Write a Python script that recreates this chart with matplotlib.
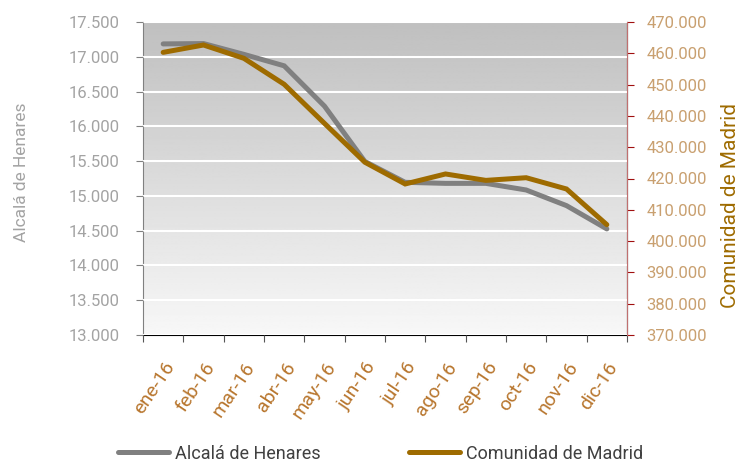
import numpy as np
import matplotlib.pyplot as plt

# paro registrado 2016
meses = ['ene-16', 'feb-16', 'mar-16', 'abr-16', 'may-16', 'jun-16',
         'jul-16', 'ago-16', 'sep-16', 'oct-16', 'nov-16', 'dic-16']
alcala = [17185, 17190, 17035, 16870, 16290, 15495,
          15195, 15180, 15180, 15085, 14860, 14525]
madrid = [460300, 462650, 458400, 450100, 437600, 425200,
          418250, 421450, 419400, 420250, 416650, 405250]

GRIS = '#808080'
ORO = '#9e6b00'

plt.rcParams['font.family'] = ['Roboto', 'DejaVu Sans']

fig = plt.figure(figsize=(7.39, 4.66), dpi=100)
ax = fig.add_axes([143 / 739, 1 - 335 / 466, 484 / 739, 313 / 466])
ax2 = ax.twinx()

# fondo degradado gris (arriba) -> blanco (abajo)
grad = np.linspace(0.75, 0.97, 256).reshape(-1, 1)
ax.imshow(grad, cmap='gray', vmin=0, vmax=1, aspect='auto',
          extent=[0, 1, 0, 1], transform=ax.transAxes, zorder=0)

x = np.arange(len(meses))
l1, = ax.plot(x, alcala, color=GRIS, lw=3.6, solid_capstyle='round',
              solid_joinstyle='miter', zorder=3, label='Alcalá de Henares')
l2, = ax2.plot(x, madrid, color=ORO, lw=3.6, solid_capstyle='round',
               solid_joinstyle='miter', zorder=3, label='Comunidad de Madrid')

ax.set_xlim(-0.5, len(meses) - 0.5)
ax.set_ylim(13000, 17500)
ax2.set_ylim(370000, 470000)

ax.set_yticks(np.arange(13000, 17501, 500))
ax.set_yticklabels([f'{v:,.0f}'.replace(',', '.') for v in np.arange(13000, 17501, 500)])
ax2.set_yticks(np.arange(370000, 470001, 10000))
ax2.set_yticklabels([f'{v:,.0f}'.replace(',', '.') for v in np.arange(370000, 470001, 10000)])

ax.grid(axis='y', color='white', lw=1.5, zorder=1)
ax.set_axisbelow(False)

# eje x: marcas entre categorias
ax.set_xticks(np.arange(-0.5, len(meses), 1))
ax.set_xticklabels([])
ax.set_xticks(x, minor=True)
ax.set_xticklabels(meses, minor=True, rotation=56, ha='right', va='top',
                   rotation_mode='anchor', color='#b8762e', fontsize=14)
ax.tick_params(axis='x', which='minor', length=0, pad=17)
ax.tick_params(axis='x', which='major', length=5, direction='out', color='#555555')

ax.tick_params(axis='y', length=5, color=GRIS, labelcolor='#a3a3a3',
               labelsize=12, pad=12)
ax2.tick_params(axis='y', length=5, color='#a01010', labelcolor='#c9a070',
                labelsize=12, pad=9)

for a in (ax, ax2):
    a.spines['top'].set_visible(False)
ax.spines['left'].set_color(GRIS)
ax.spines['bottom'].set_color('black')
ax2.spines['left'].set_visible(False)
ax2.spines['bottom'].set_visible(False)
ax2.spines['right'].set_color('#c07070')

ax.set_ylabel('Alcalá de Henares', color='#a3a3a3', fontsize=12.5)
ax.yaxis.set_label_coords(-0.235, 0.52)
ax2.set_ylabel('Comunidad de Madrid', color=ORO, fontsize=15)
ax2.yaxis.set_label_coords(1.195, 0.415)

leg = fig.legend(handles=[l1, l2], loc='lower left', ncol=2,
                 bbox_to_anchor=(102 / 739, -0.028), frameon=False,
                 fontsize=13, handlelength=2.8, handletextpad=0.35,
                 columnspacing=4.9)
for t in leg.get_texts():
    t.set_color('#404040')

fig.savefig('out.png', dpi=100)
